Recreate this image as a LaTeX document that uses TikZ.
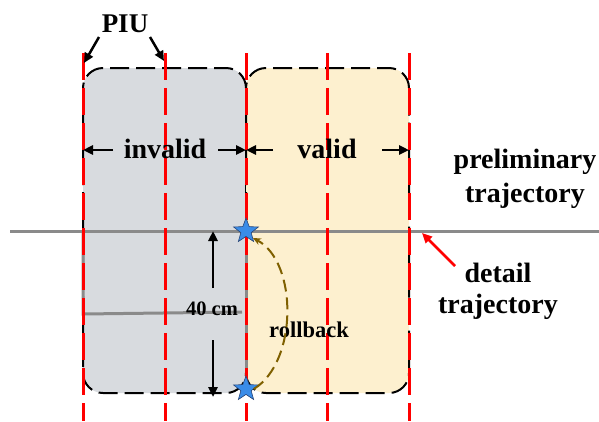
\documentclass[tikz,border=0pt]{standalone}
\usepackage{fontspec}
\setmainfont{Liberation Serif}
\usetikzlibrary{shapes.geometric,arrows.meta}
\definecolor{boxgrey}{RGB}{216,219,223}
\definecolor{boxyellow}{RGB}{253,240,207}
\definecolor{trajgrey}{RGB}{138,138,138}
\definecolor{starblue}{RGB}{58,140,232}
\definecolor{stardark}{RGB}{40,70,120}
\definecolor{rollcol}{RGB}{127,96,0}
\begin{document}
\begin{tikzpicture}[x=1pt,y=-1pt,
  region/.style={rounded corners=20pt, draw=black, line width=2pt, dash pattern=on 19pt off 7pt},
  piuline/.style={red, line width=3pt, dash pattern=on 27pt off 8pt},
  traj/.style={trajgrey, line width=3pt},
  blackarrow/.style={-{Triangle[length=10pt,width=9pt]}, line width=2.5pt},
  redarrow/.style={red, -{Triangle[length=10pt,width=9pt]}, line width=2.5pt},
  bigtext/.style={font=\bfseries\fontsize{28}{30}\selectfont, inner sep=0pt, anchor=base},
  midtext/.style={font=\bfseries\fontsize{22.5}{24}\selectfont, inner sep=0pt, anchor=base},
  smalltext/.style={font=\bfseries\fontsize{20.5}{22}\selectfont, inner sep=0pt, anchor=base},
  bluestar/.style={star, star points=5, star point ratio=2.4, minimum size=26pt, inner sep=0pt, fill=starblue, draw=stardark, line width=0.6pt},
  rollarrow/.style={rollcol, line width=2pt, dash pattern=on 12pt off 6pt, -{Stealth[length=8pt,width=7pt]}}
]
\useasboundingbox (0,0) rectangle (599,421);
% regions
\draw[region, fill=boxgrey] (83,68) rectangle (246,393);
\draw[region, fill=boxyellow] (246,68) rectangle (409,393);
% trajectories
\coordinate (trajL) at (10,231);
\coordinate (trajR) at (599,231);
\draw[traj] (trajL) -- (trajR);
\coordinate (gA) at (83,231);
\coordinate (gB) at (83,314);
\coordinate (gC) at (242,312);
\draw[traj] (gA) -- (gB) -- (gC);
\coordinate (gD) at (246,231);
\coordinate (gE) at (246,390);
\draw[traj] (gD) -- (gE);
% PIU lines
\foreach \x/\n in {83/a,165/b,246/c,327/d,409/e}{
  \coordinate (top\n) at (\x,53);
  \coordinate (bot\n) at (\x,421);
  \draw[piuline] (top\n) -- (bot\n);
}
% PIU label
\node[bigtext, font=\bfseries\fontsize{27}{29}\selectfont] (piu) at (125,32) {PIU};
\coordinate (piuA1) at (99,37);
\coordinate (piuA2) at (84,63);
\coordinate (piuB1) at (150,37);
\coordinate (piuB2) at (164,61);
\draw[blackarrow] (piuA1) -- (piuA2);
\draw[blackarrow] (piuB1) -- (piuB2);
% invalid / valid
\node[bigtext] (invalid) at (165,158) {invalid};
\node[bigtext] (valid) at (327,158) {valid};
\coordinate (ia) at (113,150); \coordinate (ib) at (83,150);
\coordinate (ic) at (218,150); \coordinate (id) at (246,150);
\coordinate (va) at (273,150); \coordinate (vb) at (246,150);
\coordinate (vc) at (382,150); \coordinate (vd) at (409,150);
\draw[blackarrow] (ia) -- (ib);
\draw[blackarrow] (ic) -- (id);
\draw[blackarrow] (va) -- (vb);
\draw[blackarrow] (vc) -- (vd);
% right labels
\node[bigtext] (prel1) at (525,168) {preliminary};
\node[bigtext] (prel2) at (525,202) {trajectory};
\node[bigtext] (det1) at (498,282) {detail};
\node[bigtext] (det2) at (498,313) {trajectory};
\coordinate (ra) at (455,266);
\coordinate (rb) at (422,233);
\draw[redarrow] (ra) -- (rb);
% 40 cm
\node[smalltext] (dist) at (212,315) {40 cm};
\coordinate (da) at (213,288); \coordinate (db) at (213,231);
\coordinate (dc) at (213,340); \coordinate (dd) at (213,397);
\draw[blackarrow] (da) -- (db);
\draw[blackarrow] (dc) -- (dd);
% rollback
\node[midtext] (roll) at (309,337) {rollback};
\node[bluestar] (stop) at (246,231) {};
\node[bluestar] (sbot) at (246,389) {};
\draw[rollarrow] (sbot.east) .. controls (298,362) and (298,262) .. (stop.south east);
\end{tikzpicture}
\end{document}
